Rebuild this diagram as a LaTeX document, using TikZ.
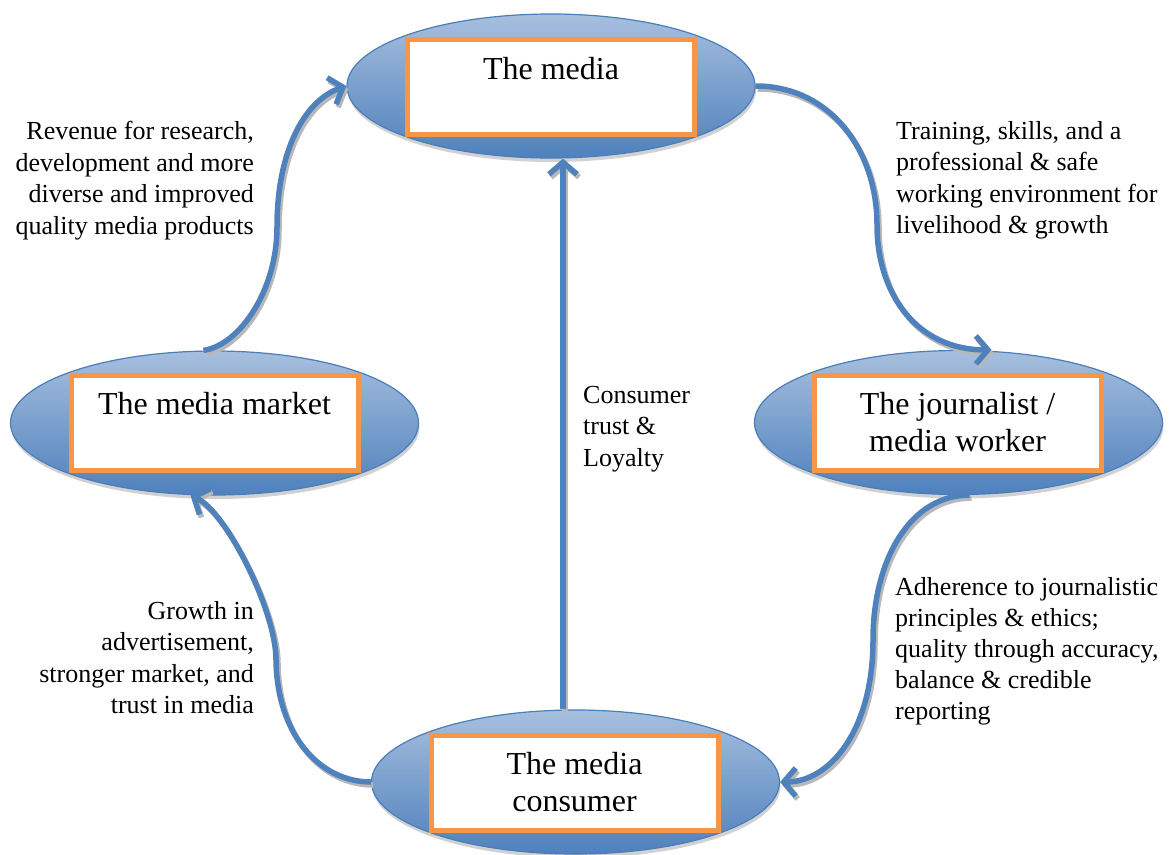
\documentclass[tikz,border=0pt]{standalone}
\usepackage{fontspec}
\setmainfont{Liberation Serif}
\usetikzlibrary{shapes.geometric,arrows.meta,shadows}
\definecolor{flowblue}{RGB}{79,129,189}
\definecolor{ovaltop}{RGB}{167,191,222}
\definecolor{ovalbottom}{RGB}{79,129,189}
\definecolor{ovaledge}{RGB}{74,126,187}
\definecolor{frameorange}{RGB}{247,150,70}
\begin{document}
\begin{tikzpicture}[x=1pt,y=-1pt,
  oval/.style={ellipse, minimum width=408pt, minimum height=144pt, inner sep=0pt,
    draw=ovaledge, line width=1.2pt, top color=ovaltop, bottom color=ovalbottom,
    drop shadow={shadow xshift=1pt, shadow yshift=-4pt, opacity=0.3, fill=black!60}},
  namebox/.style={rectangle, draw=frameorange, line width=5pt, fill=white,
    minimum width=287pt, minimum height=95pt, inner sep=0pt},
  nametext/.style={align=center, font=\fontsize{32}{37}\selectfont, inner sep=0pt},
  flowtip/.style={-{Straight Barb[length=12pt,width=28pt]}},
  flow/.style={draw=flowblue, line width=5.5pt, flowtip},
  flowshade/.style={draw=black!28, line width=5.5pt, flowtip,
    transform canvas={xshift=2pt,yshift=-3pt}},
  flowlabel/.style={font=\fontsize{26}{31.5}\selectfont, inner sep=0pt,
    execute at begin node=\strut}]
\useasboundingbox (0,0) rectangle (1174,854);

% the four stakeholders
\node[oval] (media) at (551,86) {};
\node[oval] (market) at (214.5,423) {};
\node[oval] (journalist) at (958.5,422.5) {};
\node[oval] (consumer) at (575.5,782) {};

\node[namebox] (mediabox) at (551,86.5) {};
\node[namebox] (marketbox) at (214.5,423) {};
\node[namebox] (journalistbox) at (957.5,423) {};
\node[namebox] (consumerbox) at (574.5,782.5) {};

\node[nametext] (mediatxt) at (551,91) {\strut The media\\\strut};
\node[nametext] (markettxt) at (214.5,426) {\strut The media market\\\strut};
\node[nametext] (journalisttxt) at (957.5,426) {\strut The journalist /\\\strut media worker};
\node[nametext] (consumertxt) at (574.5,786) {\strut The media\\\strut consumer};

% turning points of the curved flows
\coordinate (bendA) at (277,227);
\coordinate (bendB) at (877,225);
\coordinate (bendC) at (873,640);
\coordinate (bendD) at (276,660);
\coordinate (vx) at (563,0);

\foreach \st in {flowshade,flow} {
  \draw[\st] ([xshift=-11pt]market.north) .. controls (240,345) and (277,290) .. (bendA)
    .. controls (277,150) and (305,100) .. (media.west);
  \draw[\st] (media.east) .. controls (830,86) and (877,150) .. (bendB)
    .. controls (877,295) and (918,350) .. ([xshift=33pt]journalist.north);
  \draw[\st] ([xshift=11pt]journalist.south) .. controls (910,495) and (873,560) .. (bendC)
    .. controls (873,730) and (830,782) .. (consumer.east);
  \draw[\st] (consumer.west) .. controls (320,782) and (277,735) .. (bendD)
    .. controls (276,610) and (225,510) .. ([xshift=-24pt]market.south);
  \draw[\st] (vx |- consumer.north) -- (vx |- media.south);
}

% flow labels
\node[flowlabel, anchor=north east, align=right] (revenue) at (254,121)
  {Revenue for research,\\development and more\\diverse and improved\\quality media products};
\node[flowlabel, anchor=north west, align=left] (training) at (896,121)
  {Training, skills, and a\\professional \& safe\\working environment for\\livelihood \& growth};
\node[flowlabel, anchor=north west, align=left] (trust) at (583,386)
  {Consumer\\trust \&\\Loyalty};
\node[flowlabel, anchor=north east, align=right] (growth) at (254,601)
  {Growth in\\advertisement,\\stronger market, and\\trust in media};
\node[flowlabel, anchor=north west, align=left, font=\fontsize{26}{31}\selectfont] (adherence) at (895,577)
  {Adherence to journalistic\\principles \& ethics;\\quality through accuracy,\\balance \& credible\\reporting};
\end{tikzpicture}
\end{document}
